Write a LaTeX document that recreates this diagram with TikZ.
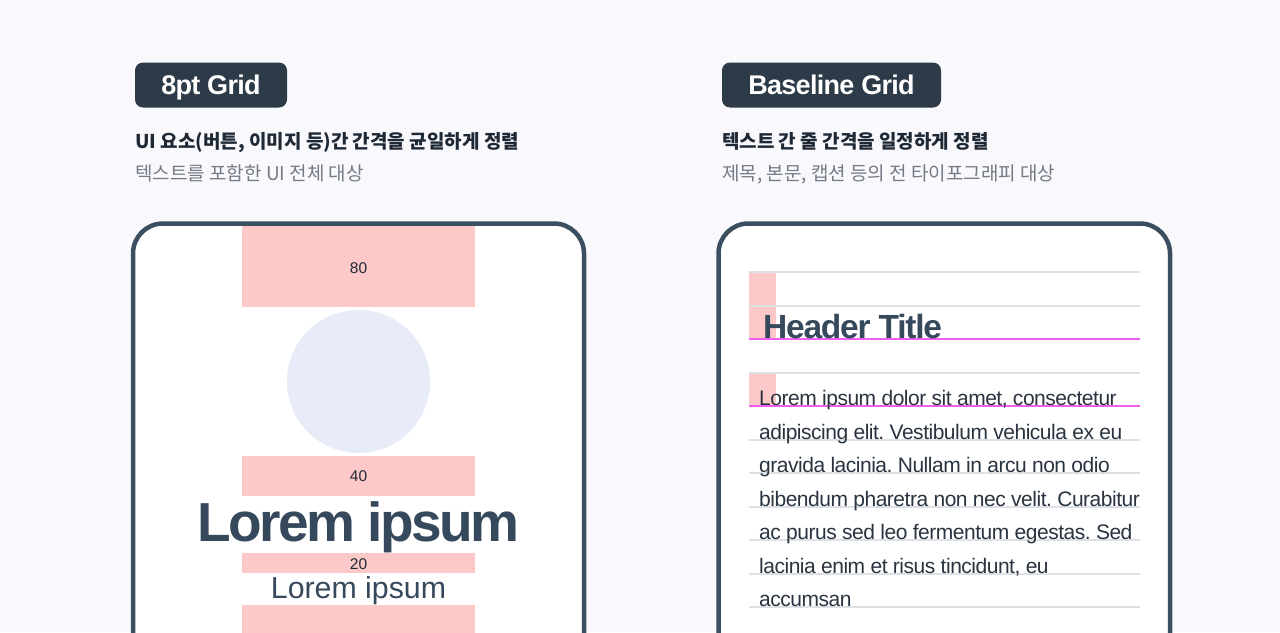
\documentclass[tikz,border=0pt]{standalone}
\usepackage{fontspec}
\setmainfont{Liberation Sans}
\newfontfamily\kr{Noto Sans CJK KR}
\definecolor{bgc}{HTML}{F9F9FD}
\definecolor{badgec}{HTML}{2D3A47}
\definecolor{framec}{HTML}{3B4F61}
\definecolor{pinkc}{HTML}{FCC8C8}
\definecolor{circc}{HTML}{E8EBF8}
\definecolor{headc}{HTML}{1F2936}
\definecolor{subc}{HTML}{737B86}
\definecolor{bigc}{HTML}{36495C}
\definecolor{bodyc}{HTML}{2A3440}
\definecolor{gridc}{HTML}{DDE1E6}
\definecolor{magc}{HTML}{EE5FEF}
\tikzset{
  badgebox/.style={fill=badgec, rounded corners=8pt},
  badgetext/.style={anchor=base, text=white, inner sep=0pt, font=\fontsize{27}{30}\selectfont\bfseries\addfontfeature{LetterSpace=-2.6}},
  headline/.style={anchor=base west, inner sep=0pt, text=headc, font=\kr\fontsize{19}{22}\selectfont\bfseries},
  subline/.style={anchor=base west, inner sep=0pt, text=subc, font=\kr\fontsize{19}{22}\selectfont},
  phone/.style={draw=framec, line width=4.5pt, rounded corners=30pt},
  pinkbox/.style={fill=pinkc},
  numlabel/.style={anchor=base, inner sep=0pt, text=headc, font=\fontsize{15.5}{18}\selectfont},
  gridline/.style={draw=gridc, line width=2pt},
  magline/.style={draw=magc, line width=2pt},
  bodytext/.style={anchor=base west, inner sep=0pt, text=bodyc, font=\fontsize{21}{24}\selectfont\addfontfeature{LetterSpace=-2.3}},
}
\begin{document}
\frenchspacing
\begin{tikzpicture}[x=1pt,y=-1pt]
\useasboundingbox (0,0) rectangle (1280,632);
\clip (0,0) rectangle (1280,632);
\fill[bgc] (0,0) rectangle (1280,632);

% ---------- Left column ----------
\path[badgebox] (135,62.5) rectangle (287,107.5);
\node[badgetext] (b1) at (211,94) {8pt Grid};
\node[headline] (h1) at (135,148) {UI 요소(버튼, 이미지 등)간 간격을 균일하게 정렬};
\node[subline] (s1) at (135,180.5) {텍스트를 포함한 UI 전체 대상};

\fill[white, rounded corners=30pt] (133,660) -- (133,223.5) -- (584,223.5) -- (584,660) -- cycle;
\path[pinkbox] (242,223) rectangle (475,307.3);
\node[numlabel] (n80) at (358.5,273) {80};
\fill[circc] (358.5,381.5) circle (71.5);
\path[pinkbox] (242,456) rectangle (475,496);
\node[numlabel] (n40) at (358.5,481.4) {40};
\path[pinkbox] (242,553) rectangle (475,573);
\node[numlabel] (n20) at (358.5,569.3) {20};
\path[pinkbox] (242,605) rectangle (475,660);
\node[anchor=base, inner sep=0pt, text=bigc, font=\fontsize{55}{60}\selectfont\bfseries\addfontfeature{LetterSpace=-4.6}] (big) at (358.5,541.5) {Lorem ipsum};
\node[anchor=base, inner sep=0pt, text=bigc, font=\fontsize{30.3}{34}\selectfont] (small) at (358.5,598.3) {Lorem ipsum};
\draw[phone] (133,660) -- (133,223.5) -- (584,223.5) -- (584,660);

% ---------- Right column ----------
\path[badgebox] (722,62.5) rectangle (941,107.5);
\node[badgetext] (b2) at (831.5,94) {Baseline Grid};
\node[headline] (h2) at (722,148) {텍스트 간 줄 간격을 일정하게 정렬};
\node[subline] (s2) at (722,180.5) {제목, 본문, 캡션 등의 전 타이포그래피 대상};

\fill[white, rounded corners=30pt] (718.5,660) -- (718.5,223.5) -- (1170,223.5) -- (1170,660) -- cycle;
\path[pinkbox] (749,272) rectangle (776,339);
\path[pinkbox] (749,372.5) rectangle (776,406);
\foreach \k in {0,...,10} {
  \draw[gridline] (749,272+33.5*\k) -- (1140,272+33.5*\k);
}
\draw[magline] (749,339) -- (1140,339);
\draw[magline] (749,406) -- (1140,406);
\node[anchor=base west, inner sep=0pt, text=bigc, font=\fontsize{33.5}{38}\selectfont\bfseries\addfontfeature{LetterSpace=-3.7}] (ht) at (763,338.5) {Header Title};
\node[bodytext] (l1) at (759,405.5) {Lorem ipsum dolor sit amet, consectetur};
\node[bodytext] (l2) at (759,439) {adipiscing elit. Vestibulum vehicula ex eu};
\node[bodytext] (l3) at (759,472.5) {gravida lacinia. Nullam in arcu non odio};
\node[bodytext] (l4) at (759,506) {bibendum pharetra non nec velit. Curabitur};
\node[bodytext] (l5) at (759,539.5) {ac purus sed leo fermentum egestas. Sed};
\node[bodytext] (l6) at (759,573) {lacinia enim et risus tincidunt, eu};
\node[bodytext] (l7) at (759,606.5) {accumsan};
\draw[phone] (718.5,660) -- (718.5,223.5) -- (1170,223.5) -- (1170,660);
\end{tikzpicture}
\end{document}
